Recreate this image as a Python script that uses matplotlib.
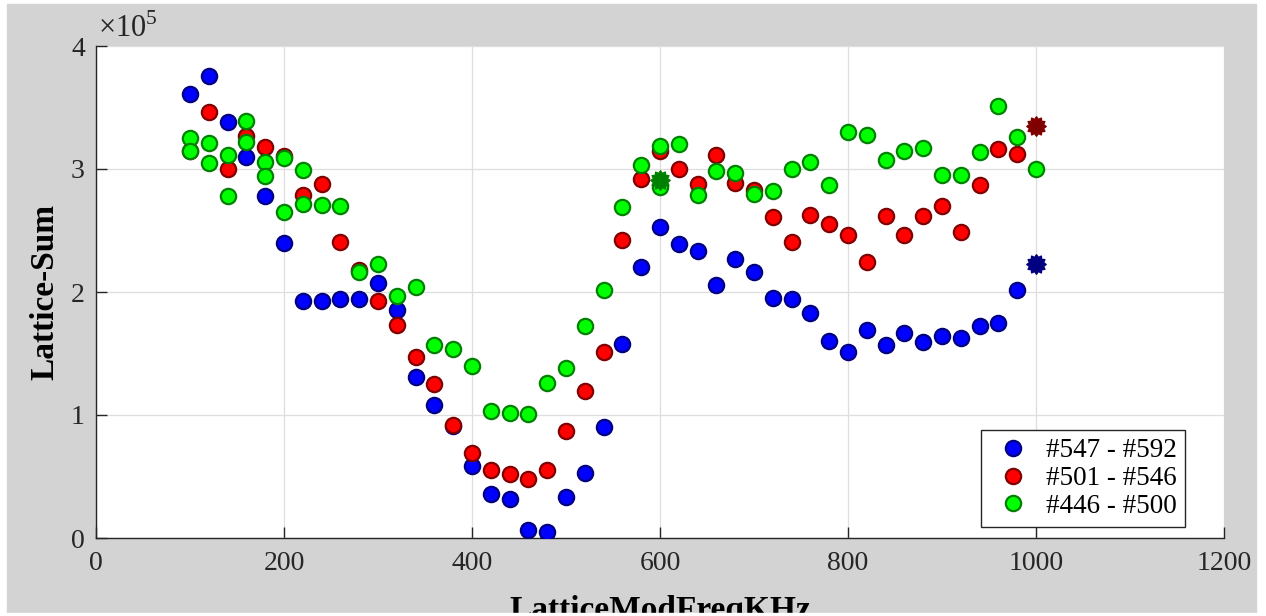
import numpy as np
import matplotlib
matplotlib.use('Agg')
import matplotlib.pyplot as plt
from matplotlib.patches import Rectangle
from matplotlib.path import Path
from matplotlib.ticker import FuncFormatter

plt.rcParams['font.family'] = ['Liberation Serif', 'DejaVu Serif']
plt.rcParams['mathtext.fontset'] = 'custom'
plt.rcParams['mathtext.rm'] = 'Liberation Serif'

# sweep frequencies (kHz), one per run
freq = list(range(100, 1001, 20))

# runs #547 - #592 (last one = 1000 kHz, drawn as star)
blue_sum = [361e3, 376e3, 338e3, 309.5e3, 278e3, 240e3, 193e3, 193e3, 194e3, 194e3,
            207.5e3, 185e3, 131e3, 108e3, 91e3, 58.5e3, 35.5e3, 32e3, 6.5e3, 5e3,
            33e3, 53e3, 90e3, 158e3, 220e3, 253e3, 239e3, 233e3, 206e3, 227e3,
            216e3, 195e3, 194e3, 183e3, 160e3, 151e3, 169e3, 157e3, 167e3, 159e3,
            164e3, 163e3, 172e3, 174.6e3, 202e3, 223e3]

# runs #501 - #546
red_sum = [315e3, 346e3, 300e3, 327e3, 318e3, 310.6e3, 279e3, 288e3, 241e3, 218e3,
           193e3, 173e3, 147e3, 125e3, 91.6e3, 69e3, 55e3, 52e3, 48e3, 55e3,
           87e3, 119.5e3, 151e3, 242e3, 292e3, 315e3, 300e3, 288e3, 311e3, 289e3,
           283e3, 261e3, 241e3, 263e3, 255e3, 246e3, 224e3, 262e3, 246e3, 262e3,
           270e3, 249e3, 287e3, 316e3, 312e3, 335e3]

# runs #446 - #500: full sweep, then repeats
green_freq = freq + [100, 120, 140, 160, 180, 200, 220, 600, 600]
green_sum = [325e3, 321e3, 311e3, 339e3, 306e3, 309e3, 299e3, 271e3, 270e3, 216e3,
             223e3, 197e3, 204e3, 157e3, 154e3, 140e3, 103e3, 102e3, 101e3, 126e3,
             138e3, 172e3, 202e3, 269e3, 303e3, 319e3, 320e3, 279e3, 298e3, 297e3,
             280e3, 282e3, 300e3, 306e3, 287e3, 330e3, 328e3, 307e3, 315e3, 317e3,
             295e3, 295e3, 314e3, 351.5e3, 326e3, 300e3,
             315e3, 305e3, 278e3, 322e3, 294e3, 265e3, 271.5e3, 285e3, 291e3]

series = [
    ('#547 - #592', freq, blue_sum, (0, 0, 1), (0, 0, 0.5)),
    ('#501 - #546', freq, red_sum, (1, 0, 0), (0.5, 0, 0)),
    ('#446 - #500', green_freq, green_sum, (0, 1, 0), (0, 0.5, 0)),
]

# 12-point star marker for the latest run of each set
n = 12
ang = np.linspace(0, 2 * np.pi, 2 * n, endpoint=False) + np.pi / 2
rad = np.where(np.arange(2 * n) % 2 == 0, 1.0, 0.75)
v = np.column_stack([rad * np.cos(ang), rad * np.sin(ang)])
star = Path(np.vstack([v, v[:1]]), closed=True)

fig = plt.figure(figsize=(12.66, 6.16), dpi=100, facecolor='white')
fig.add_artist(Rectangle((7 / 1266, 3 / 616), 1249 / 1266, 609 / 616,
                         transform=fig.transFigure, color='#d3d3d3', zorder=-5))
ax = fig.add_axes([96 / 1266, 78 / 616, 1128 / 1266, 492 / 616])

for label, xs, ys, fc, ec in series:
    ax.plot(xs[:-1], ys[:-1], 'o', ls='none', ms=11, mew=1.6,
            mfc=fc, mec=ec, label=label, zorder=3)
    ax.plot(xs[-1], ys[-1], marker=star, ls='none', ms=14, mew=1,
            mfc=ec, mec=ec, zorder=3)

ax.set_xlim(0, 1200)
ax.set_ylim(0, 4e5)
ax.set_xticks(range(0, 1201, 200))
ax.set_yticks(np.arange(0, 4.01e5, 1e5))
ax.yaxis.set_major_formatter(FuncFormatter(lambda val, pos: '%g' % (val / 1e5)))
ax.grid(True, color='#dedede', lw=0.9)
ax.set_axisbelow(True)

for side in ['top', 'right']:
    ax.spines[side].set_visible(False)
for side in ['left', 'bottom']:
    ax.spines[side].set_color('#262626')
    ax.spines[side].set_linewidth(1.0)
ax.tick_params(direction='in', length=8, width=1, color='#262626',
               labelcolor='#262626', labelsize=20)
ax.tick_params(axis='x', pad=9)
ax.tick_params(axis='y', pad=8)

ax.text(0.002, 1.004, r'$\times10^{5}$', transform=ax.transAxes,
        ha='left', va='bottom', fontsize=22, color='#262626')

ax.set_ylabel('Lattice-Sum', fontsize=24, fontweight='bold')
ax.yaxis.set_label_coords(-0.032, 0.5)
ax.set_xlabel('LatticeModFreqKHz', fontsize=24, fontweight='bold')
ax.xaxis.set_label_coords(0.5, -0.115)

leg = ax.legend(loc='lower right', bbox_to_anchor=(0.9654, 0.0224), borderaxespad=0,
                fontsize=19.5, fancybox=False, framealpha=1, edgecolor='#262626',
                borderpad=0.3, handlelength=1.8, handletextpad=0.3, labelspacing=0.1)
leg.get_frame().set_linewidth(1.0)

# white strip of the screenshot border, on top of the clipped x label
fig.add_artist(Rectangle((0, 0), 1, 3 / 616, transform=fig.transFigure,
                         color='white', zorder=10))

fig.savefig('out.png', dpi=100, facecolor=fig.get_facecolor())
